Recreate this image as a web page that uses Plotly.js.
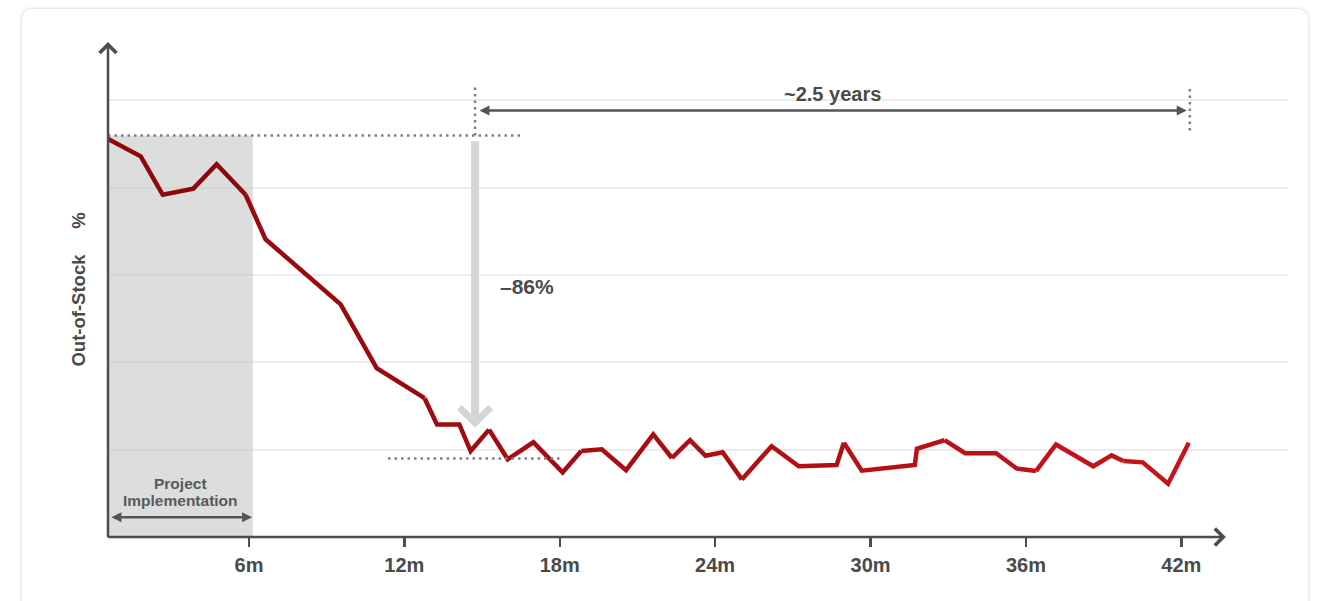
<!DOCTYPE html>
<html>
<head>
<meta charset="utf-8">
<script src="https://cdn.plot.ly/plotly-3.0.1.min.js"></script>
<style>
  html, body { margin: 0; padding: 0; background: #ffffff; width: 1320px; height: 601px; overflow: hidden; }
  #card { position: absolute; left: 22px; top: 9px; width: 1286px; height: 640px; background: #fff;
          border-radius: 10px; box-shadow: 0 0 3px 1px rgba(0,0,0,0.13); }
  #chart { position: absolute; left: 0; top: 0; width: 1320px; height: 601px; }
</style>
</head>
<body>
<div id="card"></div>
<div id="chart"></div>
<script>
// ---- data (months since start, out-of-stock %) ----
const months = [0.56, 1.82, 2.67, 3.85, 4.75, 5.87, 6.64, 9.54, 10.93, 12.78, 13.26, 14.12, 14.56, 15.27,
  15.99, 16.98, 18.11, 18.83, 19.62, 20.56, 21.61, 22.33, 23.03, 23.63, 24.29, 25.03, 26.18, 27.23,
  28.69, 28.97, 29.66, 31.71, 31.79, 32.86, 33.65, 34.85, 35.64, 36.39, 37.16, 38.6, 39.31, 39.76,
  40.51, 41.49, 42.29];
const outOfStock = [9.12, 8.72, 7.84, 7.98, 8.54, 7.84, 6.82, 5.33, 3.87, 3.18, 2.58, 2.58, 1.97, 2.46,
  1.78, 2.17, 1.48, 1.97, 2.01, 1.53, 2.35, 1.81, 2.22, 1.86, 1.94, 1.32, 2.08, 1.62,
  1.65, 2.16, 1.52, 1.65, 2.02, 2.22, 1.92, 1.92, 1.57, 1.51, 2.12, 1.62, 1.87, 1.74,
  1.71, 1.22, 2.16];
const xTickVals = [6, 12, 18, 24, 30, 36, 42];
const xTickText = ['6m', '12m', '18m', '24m', '30m', '36m', '42m'];
const yGridVals = [2, 4, 6, 8, 10];

const baseline = 9.2;        // level before project
const afterLevel = 1.8;      // level after project
const implEnd = 6.15;        // end of project implementation
const spanStart = 14.8, spanEnd = 42.3;   // "~2.5 years" span
const labelYears = '~2.5 years';
const labelDrop = '\u201386%';
const yTitle = 'Out-of-Stock' + '\u00a0'.repeat(5) + '%';

// ---- styling ----
const FONT = "'Liberation Sans', Arial, Helvetica, sans-serif";
const AX = '#4d4d4d';
const TXT = '#4a4a4a';
const DOT = '#808080';
const xRange = [0.556, 46.12];
const yRange = [0, 11.34];

// line colour fades from dark red (left) to bright red (right)
const c0 = [140, 6, 10], c1 = [200, 20, 28];
function mix(t) { return 'rgb(' + c0.map((v, i) => Math.round(v + (c1[i] - v) * t)).join(',') + ')'; }
const breaks = [0, 5, 9, 13, 17, 21, 25, 29, 33, 37, 41, months.length - 1];
const traces = [];
for (let k = 0; k < breaks.length - 1; k++) {
  const a = breaks[k], b = breaks[k + 1];
  const xs = months.slice(a, b + 1), ys = outOfStock.slice(a, b + 1);
  const mid = (xs[0] + xs[xs.length - 1]) / 2;
  const t = Math.min(1, Math.max(0, (mid - months[0]) / (months[months.length - 1] - months[0])));
  traces.push({ x: xs, y: ys, type: 'scatter', mode: 'lines', hoverinfo: 'skip', showlegend: false,
    line: { color: mix(t), width: 4.5, shape: 'linear' } });
}

const dotted = { color: DOT, width: 2.5, dash: '2.5px,4px' };
const shapes = [
  { type: 'rect', xref: 'x', yref: 'y', x0: xRange[0], x1: implEnd, y0: 0, y1: baseline,
    fillcolor: 'rgba(197,198,198,0.6)', line: { width: 0 }, layer: 'between' },
  { type: 'line', xref: 'x', yref: 'y', x0: xRange[0], x1: 16.62, y0: baseline, y1: baseline, line: dotted },
  { type: 'line', xref: 'x', yref: 'y', x0: 14.73, x1: 14.73, y0: baseline, y1: 10.36, line: dotted },
  { type: 'line', xref: 'x', yref: 'y', x0: 42.33, x1: 42.33, y0: 9.31, y1: 10.34, line: dotted },
  { type: 'line', xref: 'x', yref: 'y', x0: 11.37, x1: 18.12, y0: afterLevel, y1: afterLevel, line: dotted }
];

const txtFont = (s, c) => ({ family: FONT, size: s, color: c || TXT, weight: 700 });
const annotations = [
  // axes with open arrow heads
  { x: xRange[0], y: yRange[1], ax: xRange[0], ay: -0.04, xref: 'x', yref: 'y', axref: 'x', ayref: 'y',
    text: '', showarrow: true, arrowhead: 4, arrowsize: 1.3, arrowwidth: 2.5, arrowcolor: AX },
  { x: 43.72, y: 0, ax: 0.5, ay: 0, xref: 'x', yref: 'y', axref: 'x', ayref: 'y',
    text: '', showarrow: true, arrowhead: 4, arrowsize: 1.3, arrowwidth: 2.5, arrowcolor: AX },
  // ~2.5 years span
  { x: spanEnd - 0.09, y: 9.77, ax: spanStart + 0.04, ay: 9.77, xref: 'x', yref: 'y', axref: 'x', ayref: 'y',
    text: '', showarrow: true, arrowside: 'end+start', arrowhead: 2, startarrowhead: 2,
    arrowsize: 0.8, startarrowsize: 0.8, arrowwidth: 2.5, arrowcolor: '#555555' },
  { x: 28.55, y: 10.16, xref: 'x', yref: 'y', text: labelYears, showarrow: false, font: txtFont(20) },
  // drop arrow
  { x: 14.73, y: 2.5, ax: 14.73, ay: 9.1, xref: 'x', yref: 'y', axref: 'x', ayref: 'y',
    text: '', showarrow: true, arrowhead: 4, arrowsize: 0.75, arrowwidth: 8, arrowcolor: '#d4d5d7' },
  { x: 15.6, y: 5.74, xref: 'x', yref: 'y', xanchor: 'left', text: labelDrop, showarrow: false, font: txtFont(21) },
  // project implementation span
  { x: implEnd - 0.03, y: 0.45, ax: 0.63, ay: 0.45, xref: 'x', yref: 'y', axref: 'x', ayref: 'y',
    text: '', showarrow: true, arrowside: 'end+start', arrowhead: 2, startarrowhead: 2,
    arrowsize: 0.8, startarrowsize: 0.8, arrowwidth: 2.5, arrowcolor: '#555555' },
  { x: 3.36, y: 1.215, xref: 'x', yref: 'y', text: 'Project', showarrow: false, font: txtFont(15.5, '#595959') },
  { x: 3.36, y: 0.83, xref: 'x', yref: 'y', text: 'Implementation', showarrow: false, font: txtFont(15.5, '#595959') },
  // y title
  { xref: 'paper', yref: 'paper', x: -0.0254, y: 0.5, xanchor: 'center', yanchor: 'middle', textangle: -90,
    text: yTitle, showarrow: false, font: txtFont(18.5) }
];

const layout = {
  width: 1320, height: 601,
  margin: { l: 108, r: 32, t: 42, b: 64, pad: 0 },
  paper_bgcolor: 'rgba(0,0,0,0)', plot_bgcolor: 'rgba(0,0,0,0)',
  showlegend: false,
  xaxis: { range: xRange, tickmode: 'array', tickvals: xTickVals, ticktext: xTickText,
    ticks: 'outside', ticklen: 9, tickwidth: 2.5, tickcolor: AX, ticklabelstandoff: 1,
    showgrid: false, zeroline: false, showline: false, fixedrange: true,
    tickfont: txtFont(20) },
  yaxis: { range: yRange, tickmode: 'array', tickvals: yGridVals, showticklabels: false, ticks: '',
    showgrid: true, gridcolor: '#ececec', gridwidth: 2, zeroline: false, showline: false, fixedrange: true },
  shapes: shapes,
  annotations: annotations
};

Plotly.newPlot('chart', traces, layout, { displayModeBar: false, staticPlot: true });
</script>
</body>
</html>
